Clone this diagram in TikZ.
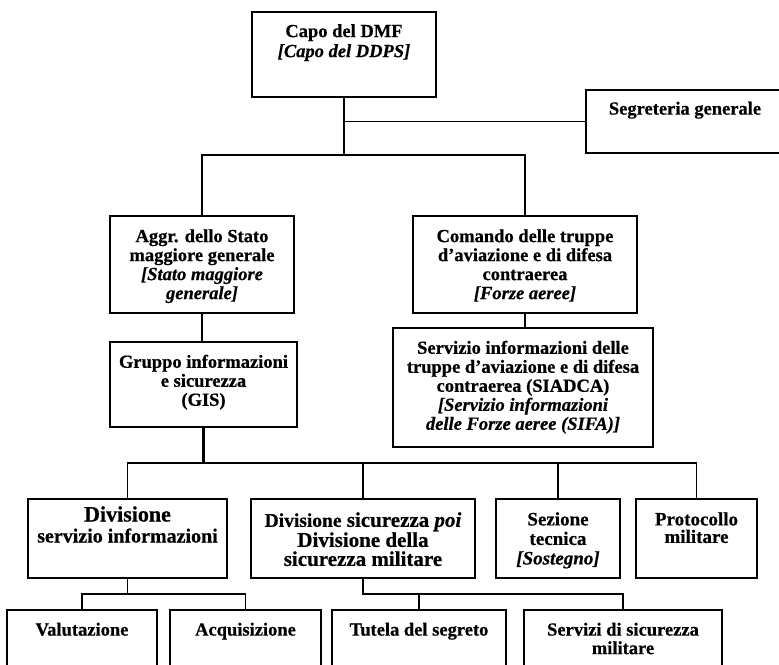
\documentclass[tikz,border=0pt]{standalone}
\usepackage{fontspec}
\setmainfont{Liberation Serif}[BoldFeatures={FakeBold=0.6},BoldItalicFeatures={FakeBold=0.6}]
\begin{document}
\begin{tikzpicture}[x=1pt,y=-1pt,
  box/.style={draw,line width=1.9pt,inner sep=0pt},
  txt/.style={font=\bfseries\fontsize{18.5}{19}\selectfont,align=center,inner sep=0pt,anchor=north},
  conn/.style={line width=1.6pt},
  thickconn/.style={line width=2.8pt}]
\useasboundingbox (0,0) rectangle (779,664);
% boxes
\node[box,minimum width=184pt,minimum height=85pt] (capo) at (344,54.5) {};
\node[box,minimum width=198pt,minimum height=63pt] (segr) at (685,121.5) {};
\node[box,minimum width=184pt,minimum height=97pt] (aggr) at (202,264.5) {};
\node[box,minimum width=224pt,minimum height=97pt] (coma) at (525,264.5) {};
\node[box,minimum width=187pt,minimum height=85pt] (grup) at (203.5,384.5) {};
\node[box,minimum width=260pt,minimum height=119pt] (siad) at (523,387.5) {};
\node[box,minimum width=199pt,minimum height=79pt] (dser) at (127.5,538.5) {};
\node[box,minimum width=224pt,minimum height=79pt] (dsic) at (363,538.5) {};
\node[box,minimum width=124pt,minimum height=79pt] (sez) at (558,538.5) {};
\node[box,minimum width=121pt,minimum height=79pt] (prot) at (696.5,538.5) {};
\node[box,minimum width=150pt,minimum height=80pt] (valu) at (82,650) {};
\node[box,minimum width=151pt,minimum height=80pt] (acqu) at (245.5,650) {};
\node[box,minimum width=174pt,minimum height=80pt] (tute) at (419,650) {};
\node[box,minimum width=198pt,minimum height=80pt] (serv) at (623,650) {};
% texts
\node[txt,font=\bfseries\fontsize{18.5}{20}\selectfont] (capoT) at ([yshift=-13pt]capo.north) {Capo del DMF\\\textit{[Capo del DDPS]}};
\node[txt] (segrT) at ([yshift=-12.5pt]segr.north) {Segreteria generale};
\node[txt] (aggrT) at ([yshift=-14pt]aggr.north) {Aggr. dello Stato\\maggiore generale\\\textit{[Stato maggiore}\\\textit{generale]}};
\node[txt] (comaT) at ([yshift=-14pt]coma.north) {Comando delle truppe\\d’aviazione e di difesa\\contraerea\\\textit{[Forze aeree]}};
\node[txt] (grupT) at ([yshift=-13.5pt]grup.north) {Gruppo informazioni\\e sicurezza\\(GIS)};
\node[txt] (siadT) at ([yshift=-13.5pt]siad.north) {Servizio informazioni delle\\truppe d’aviazione e di difesa\\contraerea (SIADCA)\\\textit{[Servizio informazioni}\\\textit{delle Forze aeree (SIFA)]}};
\node[txt,font=\bfseries\fontsize{20}{21}\selectfont] (dserT) at ([yshift=-8pt]dser.north) {{\fontsize{22}{21}\selectfont Divisione}\\servizio informazioni};
\node[txt,font=\bfseries\fontsize{21}{19}\selectfont] (dsicT) at ([yshift=-14pt]dsic.north) {{\fontsize{19.5}{19}\selectfont Divisione} sicurezza \textit{poi}\\Divisione della\\sicurezza militare};
\node[txt,font=\bfseries\fontsize{19}{19.5}\selectfont] (sezT) at ([yshift=-14pt]sez.north) {Sezione\\tecnica\\\textit{[Sostegno]}};
\node[txt,font=\bfseries\fontsize{19}{17.5}\selectfont] (protT) at ([yshift=-14pt]prot.north) {Protocollo\\militare};
\node[txt] (valuT) at ([yshift=-13.5pt]valu.north) {Valutazione};
\node[txt] (acquT) at ([yshift=-13.5pt]acqu.north) {Acquisizione};
\node[txt] (tuteT) at ([yshift=-13.5pt]tute.north) {Tutela del segreto};
\node[txt,font=\bfseries\fontsize{18.5}{18.5}\selectfont] (servT) at ([yshift=-13.5pt]serv.north) {Servizi di sicurezza\\militare};
% connectors
\coordinate (busA) at (344,155);
\coordinate (busB) at (202,463);
\coordinate (busC) at (128,594);
\draw[conn] (capo.south) -- (busA);
\draw[conn] (capo.south |- segr.west) -- (segr.west);
\draw[conn] (aggr.north) -- (aggr.north |- busA) -- (coma.north |- busA) -- (coma.north);
\draw[conn] (aggr.south) -- (aggr.south |- grup.north);
\draw[conn] (coma.south) -- (coma.south |- siad.north);
\draw[thickconn] (grup.south) -- (grup.south |- busB);
\draw[conn] (dser.north) -- (dser.north |- busB) -- (prot.north |- busB) -- (prot.north);
\draw[conn] (dsic.north) -- (dsic.north |- busB);
\draw[conn] (sez.north) -- (sez.north |- busB);
\draw[conn] (dser.south) -- (dser.south |- busC);
\draw[conn] (valu.north) -- (valu.north |- busC) -- (acqu.north |- busC) -- (acqu.north);
\draw[conn] (dsic.south) -- (dsic.south |- busC) -- (serv.north |- busC) -- (serv.north);
\draw[conn] (tute.north) -- (tute.north |- busC);
\end{tikzpicture}
\end{document}
